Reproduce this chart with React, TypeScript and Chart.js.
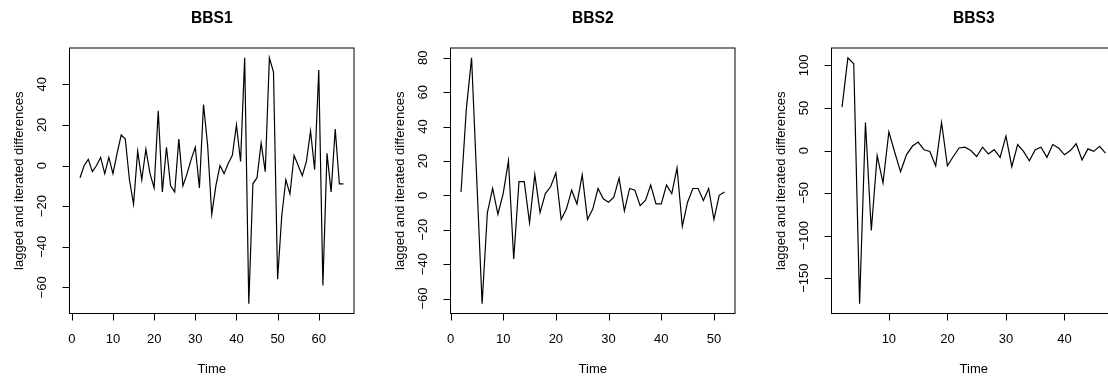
import React, { useEffect, useRef } from "react";
import { Chart, registerables } from "chart.js";

Chart.register(...registerables);

// ---- data ----
const titles = ["BBS1", "BBS2", "BBS3"];
const xAxisLabel = "Time";
const yAxisLabel = "lagged and iterated differences";

const start1 = 2;
const bbs1 = [
  -6, 0, 3, -3, 0, 4, -4, 4, -4, 6, 15, 13, -7, -19, 7, -7, 8, -4, -11, 27,
  -13, 9, -10, -13, 13, -10, -4, 3, 9, -11, 30, 10, -24, -10, 0, -4, 1, 5, 20,
  2, 53, -68, -9, -6, 11, -3, 53, 46, -56, -25, -7, -14, 5, 0, -5, 2, 17, -2,
  47, -59, 6, -13, 18, -9, -9,
];
const start2 = 2;
const bbs2 = [
  2, 50, 80, 8, -63, -10, 4, -11, 1, 20, -37, 8, 8, -16, 12, -10, 1, 5, 13,
  -14, -8, 3, -5, 12, -14, -8, 4, -2, -4, -1, 10, -9, 4, 3, -6, -3, 6, -5, -5,
  6, 1, 16, -18, -4, 4, 4, -3, 4, -14, 0, 2,
];
const start3 = 2;
const bbs3 = [
  51, 109, 102, -180, 33, -94, -6, -38, 22, -2, -25, -5, 5, 10, 1, -1, -18, 33,
  -18, -7, 3, 4, 0, -7, 4, -4, 1, -8, 17, -19, 7, -1, -12, 1, 4, -8, 7, 3, -5,
  0, 8, -11, 2, -1, 5, -3,
];

const xTicks1 = [0, 10, 20, 30, 40, 50, 60];
const yTicks1 = [-60, -40, -20, 0, 20, 40];
const xTicks2 = [0, 10, 20, 30, 40, 50];
const yTicks2 = [-60, -40, -20, 0, 20, 40, 60, 80];
const xTicks3 = [10, 20, 30, 40];
const yTicks3 = [-150, -100, -50, 0, 50, 100];

const panels = [
  { title: titles[0], start: start1, values: bbs1, xTicks: xTicks1, yTicks: yTicks1 },
  { title: titles[1], start: start2, values: bbs2, xTicks: xTicks2, yTicks: yTicks2 },
  { title: titles[2], start: start3, values: bbs3, xTicks: xTicks3, yTicks: yTicks3 },
];

// ---- layout ----
const PANEL_W = 381;
const PANEL_H = 376;
const FONT = '"Liberation Sans", Arial, Helvetica, sans-serif';

function rRange(vals: number[]) {
  const lo = Math.min(...vals);
  const hi = Math.max(...vals);
  const pad = (hi - lo) * 0.04;
  return [lo - pad, hi + pad];
}

function makePlugin(p: (typeof panels)[number]) {
  return {
    id: "rstyle",
    afterDraw(chart: any) {
      const { ctx, chartArea: a, scales } = chart;
      const xs = scales.x;
      const ys = scales.y;
      ctx.save();
      ctx.strokeStyle = "#000";
      ctx.fillStyle = "#000";
      ctx.lineWidth = 1;
      // box
      ctx.strokeRect(a.left, a.top, a.right - a.left, a.bottom - a.top);

      // x axis
      ctx.font = `13px ${FONT}`;
      ctx.textAlign = "center";
      ctx.textBaseline = "alphabetic";
      const xp = p.xTicks.map((t) => xs.getPixelForValue(t));
      ctx.beginPath();
      ctx.moveTo(xp[0], a.bottom);
      ctx.lineTo(xp[xp.length - 1], a.bottom);
      xp.forEach((px) => {
        ctx.moveTo(Math.round(px) + 0.5, a.bottom);
        ctx.lineTo(Math.round(px) + 0.5, a.bottom + 7);
      });
      ctx.stroke();
      p.xTicks.forEach((t, i) => ctx.fillText(String(t), xp[i], 342.5));

      // y axis
      const yp = p.yTicks.map((v) => ys.getPixelForValue(v));
      ctx.beginPath();
      ctx.moveTo(a.left, yp[0]);
      ctx.lineTo(a.left, yp[yp.length - 1]);
      yp.forEach((py) => {
        ctx.moveTo(a.left - 7, Math.round(py) + 0.5);
        ctx.lineTo(a.left, Math.round(py) + 0.5);
      });
      ctx.stroke();
      p.yTicks.forEach((v, i) => {
        ctx.save();
        ctx.translate(45.5, yp[i]);
        ctx.rotate(-Math.PI / 2);
        ctx.fillText(String(v).replace("-", "\u2212"), 0, 0);
        ctx.restore();
      });

      const cx = (a.left + a.right) / 2;
      const cy = (a.top + a.bottom) / 2;
      // xlab
      ctx.fillText(xAxisLabel, cx, 372.5);
      // ylab
      ctx.save();
      ctx.translate(22.5, cy);
      ctx.rotate(-Math.PI / 2);
      ctx.fillText(yAxisLabel, 0, 0);
      ctx.restore();
      // title
      ctx.font = `bold 15.6px ${FONT}`;
      ctx.fillText(p.title, cx, 23.3);
      ctx.restore();
    },
  };
}

function Panel({ p, left }: { p: (typeof panels)[number]; left: number }) {
  const ref = useRef<HTMLCanvasElement | null>(null);
  useEffect(() => {
    if (!ref.current) return;
    const n = p.values.length;
    const [xmin, xmax] = rRange([p.start, p.start + n - 1]);
    const [ymin, ymax] = rRange(p.values);
    const chart = new Chart(ref.current, {
      type: "line",
      data: {
        datasets: [
          {
            data: p.values.map((v, i) => ({ x: p.start + i, y: v })),
            borderColor: "#000",
            borderWidth: 1.2,
            pointRadius: 0,
            tension: 0,
            fill: false,
          },
        ],
      },
      options: {
        animation: false,
        responsive: false,
        devicePixelRatio: 1,
        layout: { padding: { left: 69.5, right: 27, top: 48, bottom: 62.5 } },
        plugins: { legend: { display: false }, tooltip: { enabled: false }, title: { display: false } },
        scales: {
          x: { type: "linear", min: xmin, max: xmax, display: false },
          y: { type: "linear", min: ymin, max: ymax, display: false },
        },
      },
      plugins: [makePlugin(p)],
    });
    return () => chart.destroy();
  }, [p]);
  return (
    <canvas
      ref={ref}
      width={PANEL_W}
      height={PANEL_H}
      style={{ position: "absolute", left, top: 0, width: PANEL_W, height: PANEL_H }}
    />
  );
}

export default function App() {
  return (
    <div
      style={{
        position: "fixed",
        left: 0,
        top: 0,
        width: 1108,
        height: 376,
        overflow: "hidden",
        background: "#fff",
      }}
    >
      {panels.map((p, i) => (
        <Panel key={p.title} p={p} left={i * PANEL_W} />
      ))}
    </div>
  );
}
